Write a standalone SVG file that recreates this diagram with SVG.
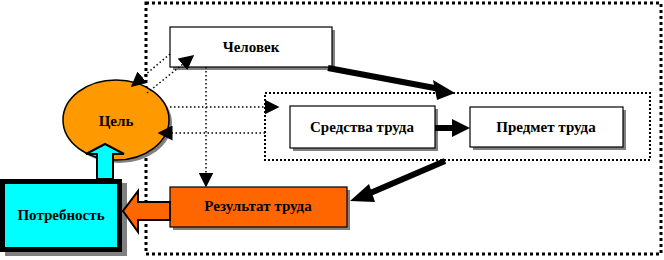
<svg xmlns="http://www.w3.org/2000/svg" width="664" height="260" viewBox="0 0 664 260">
<style>
text{font-family:"Liberation Serif","DejaVu Serif",serif;font-weight:bold;font-size:15px;text-anchor:middle;fill:#000}
.box{stroke:#000;stroke-width:1.2}
.sh{fill:#808080}
.dot{fill:none;stroke:#000;stroke-width:1.5;stroke-dasharray:1.5 2.5}
.thick{stroke:#000;stroke-width:6;fill:none}
</style>
<defs>
<marker id="ahs" viewBox="0 0 10 10" refX="9" refY="5" markerWidth="15" markerHeight="15" orient="auto" markerUnits="userSpaceOnUse"><path d="M0,0L10,5L0,10z" fill="#000"/></marker>
</defs>
<rect x="146" y="3" width="515" height="251" fill="none" stroke="#000" stroke-width="3" stroke-dasharray="3 3"/>
<rect x="265" y="93" width="385" height="67" fill="none" stroke="#000" stroke-width="2" stroke-dasharray="2 2"/>

<g id="chelovek"><rect class="sh" x="173" y="30" width="162" height="40"/><rect class="box" x="170" y="27" width="162" height="40" fill="#fff"/><text x="251" y="52">Человек</text></g>
<g id="sredstva"><rect class="sh" x="293" y="109" width="145" height="42"/><rect class="box" x="290" y="106" width="145" height="42" fill="#fff"/><text x="362" y="132">Средства труда</text></g>
<g id="predmet"><rect class="sh" x="473" y="110" width="153" height="40"/><rect class="box" x="470" y="107" width="153" height="40" fill="#fff"/><text x="546" y="132">Предмет труда</text></g>
<g id="rezultat"><rect class="sh" x="173" y="190" width="177" height="40"/><rect class="box" x="170" y="187" width="177" height="40" fill="#FF6600"/><text x="258" y="211">Результат труда</text></g>
<g id="cel"><ellipse class="sh" cx="119" cy="123" rx="53" ry="40"/><ellipse cx="116" cy="120" rx="53" ry="40" fill="#FF9900" stroke="#000" stroke-width="1.5"/><text x="116" y="126">Цель</text></g>
<g id="potrebnost"><rect class="sh" x="5" y="183" width="122" height="73"/><rect x="2.5" y="181.5" width="117" height="68" fill="#00FFFF" stroke="#000" stroke-width="5"/><text x="61" y="220">Потребность</text></g>

<g id="connectors">
<path class="dot" d="M170,54 L132,86" marker-end="url(#ahs)"/>
<path class="dot" d="M147,93 L193,56" marker-end="url(#ahs)"/>
<path class="dot" d="M170,107 L278,107" marker-end="url(#ahs)"/>
<path class="dot" d="M265,133 L159,133" marker-end="url(#ahs)"/>
<path class="dot" d="M206,67 L206,186" marker-end="url(#ahs)"/>
<path d="M328,68 L440,89" class="thick"/><path d="M455,93 L433,80 L437,100z" fill="#000"/>
<path d="M435,128 L458,128" class="thick"/><path d="M470,128 L452,119 L452,137z" fill="#000"/>
<path d="M445,161 L368,194" class="thick"/><path d="M350,201 L369,184 L375,202z" fill="#000"/>
<path d="M170,202 L138,202 L138,191 L123,211 L138,232 L138,220 L170,220z" fill="#FF6600" stroke="#000" stroke-width="2"/>
<path d="M97,179 L97,154 L86,154 L105,144 L124,154 L113,154 L113,179z" fill="#00FFFF" stroke="#000" stroke-width="2"/>
</g>
</svg>
